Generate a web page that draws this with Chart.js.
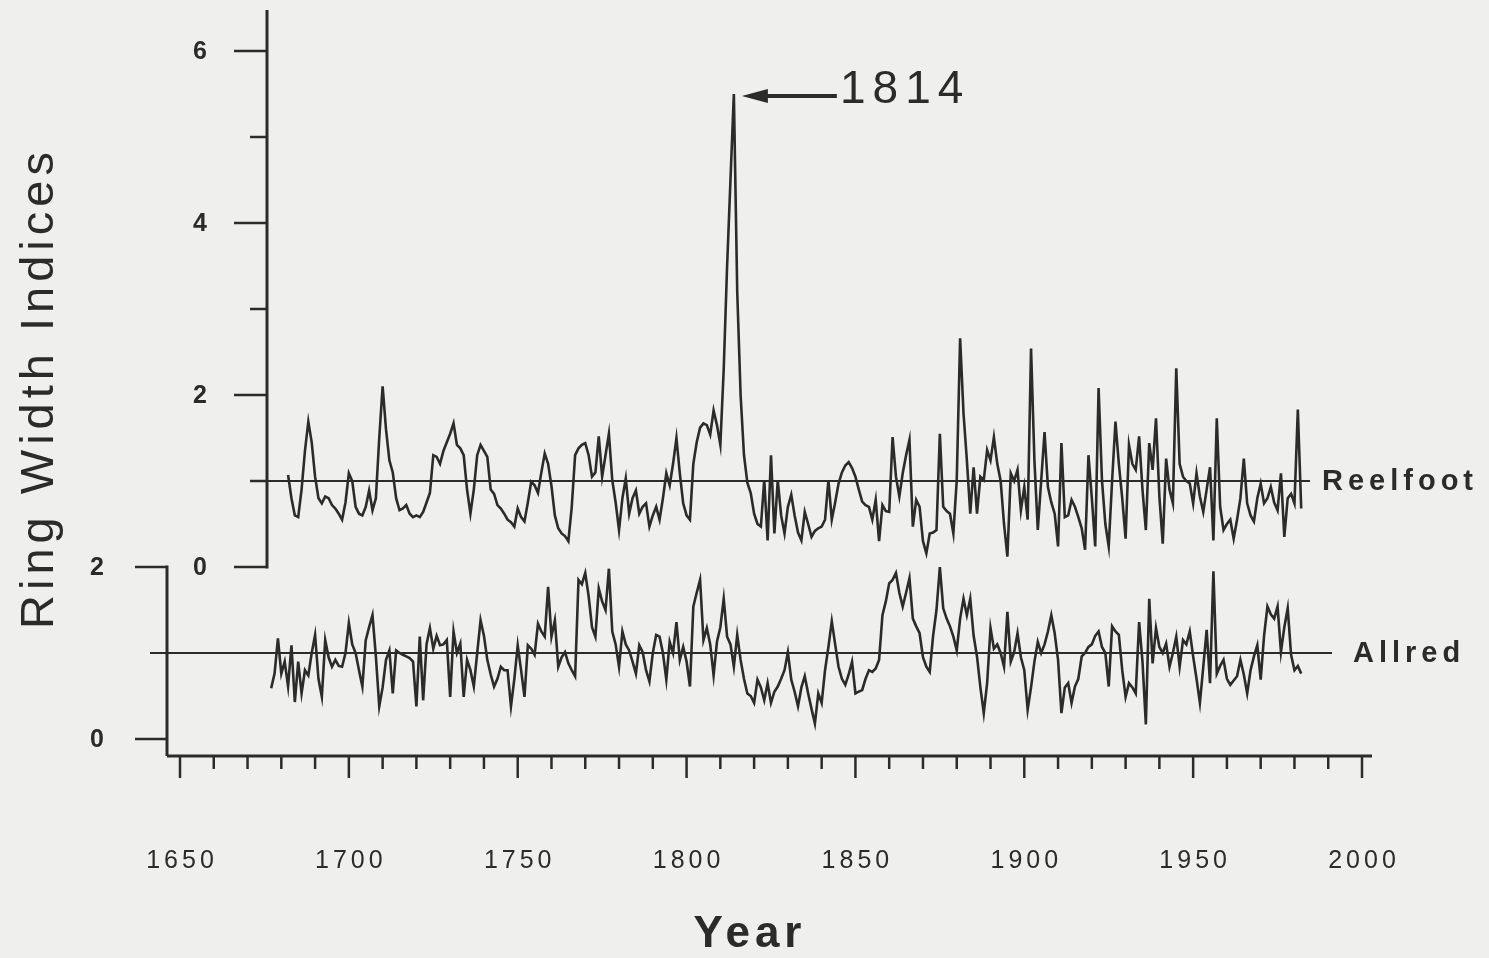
<!DOCTYPE html>
<html>
<head>
<meta charset="utf-8">
<title>Ring Width Indices</title>
<script src="https://cdn.jsdelivr.net/npm/chart.js@4.4.1/dist/chart.umd.min.js"></script>
<style>
  html, body { margin: 0; padding: 0; background: #efefed; }
  canvas { display: block; }
</style>
</head>
<body>
<canvas id="chart" width="1489" height="958"></canvas>
<script>
// Reelfoot ring width indices, one value per year from 1682
const reelfootStart = 1682;
const reelfootValues = [
    1.07, 0.8, 0.6, 0.58, 0.9, 1.35, 1.69, 1.45,                     // 1682-1689
    1.05, 0.8, 0.74, 0.82, 0.8, 0.72, 0.68, 0.62, 0.55, 0.75,        // 1690s
    1.09, 1.0, 0.7, 0.62, 0.6, 0.7, 0.89, 0.66, 0.8, 1.5,            // 1700s
    2.1, 1.6, 1.24, 1.1, 0.8, 0.66, 0.68, 0.72, 0.62, 0.58,          // 1710s
    0.6, 0.58, 0.64, 0.75, 0.86, 1.3, 1.28, 1.2, 1.35, 1.45,         // 1720s
    1.55, 1.67, 1.42, 1.38, 1.3, 0.9, 0.62, 0.9, 1.3, 1.42,          // 1730s
    1.35, 1.28, 0.9, 0.85, 0.72, 0.68, 0.62, 0.55, 0.52, 0.47,       // 1740s
    0.68, 0.58, 0.53, 0.75, 0.99, 0.95, 0.86, 1.1, 1.32, 1.2,        // 1750s
    0.94, 0.6, 0.45, 0.39, 0.36, 0.3, 0.7, 1.3, 1.38, 1.42,          // 1760s
    1.44, 1.3, 1.05, 1.1, 1.52, 1.05, 1.3, 1.55, 1.01, 0.75,         // 1770s
    0.43, 0.8, 1.03, 0.62, 0.8, 0.89, 0.62, 0.7, 0.74, 0.47,         // 1780s
    0.6, 0.7, 0.55, 0.8, 1.09, 0.95, 1.2, 1.5, 1.09, 0.74,           // 1790s
    0.6, 0.55, 1.2, 1.45, 1.62, 1.67, 1.65, 1.54, 1.82, 1.65,        // 1800s
    1.42, 2.3, 3.5, 4.5, 5.5, 3.2, 2.0, 1.3, 0.98, 0.86,             // 1810s
    0.62, 0.5, 0.47, 1.01, 0.31, 1.3, 0.39, 1.01, 0.6, 0.39,         // 1820s
    0.7, 0.84, 0.6, 0.4, 0.31, 0.64, 0.5, 0.35, 0.42, 0.45,          // 1830s
    0.47, 0.55, 1.01, 0.55, 0.75, 0.97, 1.1, 1.18, 1.22, 1.15,       // 1840s
    1.05, 0.9, 0.76, 0.72, 0.7, 0.55, 0.78, 0.3, 0.72, 0.65,         // 1850s
    0.64, 1.51, 1.05, 0.82, 1.09, 1.3, 1.48, 0.47, 0.78, 0.7,        // 1860s
    0.3, 0.16, 0.39, 0.4, 0.43, 1.55, 0.7, 0.65, 0.62, 0.39,         // 1870s
    1.01, 2.66, 1.79, 1.24, 0.62, 1.16, 0.62, 1.05, 1.01, 1.36,      // 1880s
    1.24, 1.51, 1.2, 1.0, 0.5, 0.12, 1.09, 1.0, 1.13, 0.66,          // 1890s
    0.93, 0.55, 2.54, 1.24, 0.43, 1.0, 1.57, 0.93, 0.75, 0.62,       // 1900s
    0.24, 1.44, 0.58, 0.6, 0.78, 0.7, 0.58, 0.45, 0.2, 1.3,          // 1910s
    0.8, 0.24, 2.08, 1.01, 0.5, 0.24, 1.0, 1.69, 1.2, 0.8,           // 1920s
    0.33, 1.42, 1.2, 1.13, 1.52, 0.9, 0.43, 1.44, 1.13, 1.73,        // 1930s
    0.82, 0.27, 1.26, 0.9, 0.74, 2.31, 1.2, 1.05, 1.0, 0.97,         // 1940s
    0.74, 1.09, 0.82, 0.64, 0.9, 1.16, 0.31, 1.73, 0.7, 0.43,        // 1950s
    0.5, 0.55, 0.33, 0.55, 0.8, 1.26, 0.74, 0.6, 0.53, 0.8,          // 1960s
    0.97, 0.74, 0.8, 0.93, 0.75, 0.66, 1.09, 0.35, 0.8, 0.85,        // 1970s
    0.74, 1.83, 0.68                                                  // 1980-1982
];

// Allred ring width indices, one value per year from 1677
const allredStart = 1677;
const allredValues = [
    0.59, 0.76, 1.17,                                                 // 1677-1679
    0.76, 0.9, 0.61, 1.09, 0.43, 0.9, 0.53, 0.8, 0.74, 1.0,          // 1680s
    1.21, 0.7, 0.49, 1.15, 0.95, 0.84, 0.92, 0.85, 0.84, 1.0,        // 1690s
    1.35, 1.1, 1.0, 0.8, 0.61, 1.15, 1.3, 1.44, 0.96, 0.38,          // 1700s
    0.6, 0.92, 1.03, 0.53, 1.03, 1.0, 0.98, 0.96, 0.94, 0.9,         // 1710s
    0.38, 1.19, 0.45, 1.1, 1.29, 1.05, 1.2, 1.09, 1.1, 1.15,         // 1720s
    0.49, 1.25, 1.0, 1.11, 0.49, 0.92, 0.8, 0.61, 1.0, 1.38,         // 1730s
    1.2, 0.92, 0.75, 0.61, 0.7, 0.84, 0.8, 0.8, 0.38, 0.7,           // 1740s
    1.09, 0.8, 0.49, 1.09, 1.05, 0.98, 1.34, 1.25, 1.19, 1.77,       // 1750s
    1.19, 1.38, 0.84, 0.95, 1.01, 0.88, 0.8, 0.73, 1.85, 1.8,        // 1760s
    1.93, 1.66, 1.3, 1.19, 1.75, 1.6, 1.5, 1.98, 1.25, 1.1,          // 1770s
    0.84, 1.25, 1.1, 1.03, 0.9, 0.76, 1.09, 1.01, 0.8, 0.67,         // 1780s
    1.0, 1.21, 1.19, 1.0, 0.69, 1.13, 1.0, 1.36, 0.92, 1.07,         // 1790s
    0.9, 0.61, 1.54, 1.7, 1.85, 1.15, 1.29, 1.1, 0.74, 1.13,         // 1800s
    1.3, 1.63, 1.19, 1.1, 0.84, 1.21, 0.92, 0.7, 0.53, 0.5,          // 1810s
    0.42, 0.69, 0.6, 0.45, 0.65, 0.42, 0.55, 0.61, 0.7, 0.8,         // 1820s
    1.01, 0.69, 0.55, 0.38, 0.6, 0.73, 0.53, 0.35, 0.18, 0.53,       // 1830s
    0.42, 0.8, 1.07, 1.37, 1.1, 0.84, 0.7, 0.63, 0.75, 0.9,          // 1840s
    0.53, 0.55, 0.57, 0.7, 0.8, 0.78, 0.82, 0.92, 1.44, 1.6,         // 1850s
    1.81, 1.85, 1.93, 1.7, 1.54, 1.7, 1.87, 1.4, 1.31, 1.23,         // 1860s
    0.95, 0.84, 0.78, 1.2, 1.5, 2.0, 1.52, 1.4, 1.31, 1.19,          // 1870s
    1.03, 1.4, 1.63, 1.44, 1.63, 1.2, 0.96, 0.6, 0.3, 0.65,          // 1880s
    1.29, 1.05, 1.1, 1.0, 0.84, 1.48, 0.9, 1.01, 1.23, 0.95,         // 1890s
    0.8, 0.34, 0.6, 0.9, 1.13, 1.0, 1.1, 1.25, 1.44, 1.23,           // 1900s
    0.92, 0.3, 0.6, 0.65, 0.42, 0.61, 0.7, 0.96, 1.0, 1.07,          // 1910s
    1.1, 1.2, 1.25, 1.07, 1.0, 0.61, 1.31, 1.25, 1.21, 0.8,          // 1920s
    0.49, 0.65, 0.6, 0.53, 1.36, 0.9, 0.17, 1.63, 0.88, 1.29,        // 1930s
    1.07, 1.0, 1.11, 0.84, 1.0, 1.19, 0.84, 1.15, 1.1, 1.25,         // 1940s
    0.96, 0.7, 0.42, 0.84, 1.27, 0.65, 1.95, 0.76, 0.85, 0.92,       // 1950s
    0.7, 0.63, 0.68, 0.73, 0.92, 0.75, 0.53, 0.8, 0.96, 1.09,        // 1960s
    0.69, 1.2, 1.54, 1.45, 1.4, 1.54, 1.01, 1.3, 1.52, 0.98,         // 1970s
    0.8, 0.85, 0.76                                                   // 1980-1982
];

const yearLabels = [1650, 1700, 1750, 1800, 1850, 1900, 1950, 2000];
const reelfootTicks = [0, 2, 4, 6];
const allredTicks = [0, 2];
const baseline = 1;
const peakYear = 1814;

// page geometry (pixels)
const frame = { left: 167, right: 1370, top: 10, bottom: 756 };
const pxYear = (1362 - 180) / 350;   // 1650 sits at x=180, 2000 at x=1362
const pxUnit = 86;                   // one index unit
const reelfootZeroY = 567;
const allredZeroY = 739;
const ink = '#2b2b2b';

function toPoints(start, values) {
    return values.map((v, i) => ({ x: start + i, y: v }));
}

const decor = {
    id: 'decor',
    beforeDraw(chart) {
        const ctx = chart.ctx;
        ctx.save();
        ctx.fillStyle = '#efefed';
        ctx.fillRect(0, 0, chart.width, chart.height);
        ctx.restore();
    },
    beforeDatasetsDraw(chart) {
        const { ctx, scales } = chart;
        const x = scales.x, yR = scales.yR, yA = scales.yA;
        ctx.save();
        ctx.strokeStyle = ink;
        ctx.fillStyle = ink;

        function seg(x1, y1, x2, y2, w) {
            ctx.lineWidth = w;
            ctx.beginPath();
            ctx.moveTo(x1, y1);
            ctx.lineTo(x2, y2);
            ctx.stroke();
        }

        // baselines at index 1
        seg(250, yR.getPixelForValue(baseline), 1310, yR.getPixelForValue(baseline), 2);
        seg(150, yA.getPixelForValue(baseline), 1332, yA.getPixelForValue(baseline), 2);

        // Reelfoot axis
        const rx = 267;
        seg(rx, frame.top, rx, yR.getPixelForValue(0) + 1.5, 3);
        for (let v = 0; v <= 6; v++) {
            const len = v % 2 === 0 ? 33 : 17;
            const py = yR.getPixelForValue(v);
            seg(rx - len, py, rx, py, 2.5);
        }
        ctx.font = 'bold 25px "Liberation Sans", Arial, sans-serif';
        ctx.textAlign = 'center';
        ctx.textBaseline = 'middle';
        reelfootTicks.forEach(v => ctx.fillText(String(v), 200, yR.getPixelForValue(v) + 1));

        // Allred axis
        const ax = frame.left;
        seg(ax, yA.getPixelForValue(2) - 1.5, ax, frame.bottom, 3);
        allredTicks.forEach(v => {
            const py = yA.getPixelForValue(v);
            seg(135, py, ax, py, 2.5);
            ctx.fillText(String(v), 97, py + 1);
        });

        // year axis
        seg(frame.left, frame.bottom, frame.right + 2, frame.bottom, 3);
        for (let yr = 1650; yr <= 2000; yr += 10) {
            const px = x.getPixelForValue(yr);
            const len = yr % 50 === 0 ? 22 : 13;
            seg(px, frame.bottom, px, frame.bottom + len, 2.5);
        }
        ctx.font = '25px "Liberation Sans", Arial, sans-serif';
        ctx.letterSpacing = '4px';
        yearLabels.forEach(yr => ctx.fillText(String(yr), x.getPixelForValue(yr) + 2, 861));

        // axis titles
        ctx.font = 'bold 44px "Liberation Sans", Arial, sans-serif';
        ctx.letterSpacing = '5px';
        ctx.fillText('Year', 750, 935);

        ctx.save();
        ctx.translate(40, 388);
        ctx.rotate(-Math.PI / 2);
        ctx.font = '47px "Liberation Sans", Arial, sans-serif';
        ctx.letterSpacing = '5px';
        ctx.fillText('Ring Width Indices', 0, 0);
        ctx.restore();

        // series names
        ctx.font = 'bold 29px "Liberation Sans", Arial, sans-serif';
        ctx.letterSpacing = '5px';
        ctx.textAlign = 'left';
        ctx.fillText('Reelfoot', 1322, yR.getPixelForValue(baseline) + 1);
        ctx.fillText('Allred', 1353, yA.getPixelForValue(baseline) + 1);

        // 1814 arrow
        const peakX = x.getPixelForValue(peakYear);
        const peakY = yR.getPixelForValue(reelfootValues[peakYear - reelfootStart]);
        const tipX = peakX + 8, tipY = peakY + 2;
        seg(tipX + 20, tipY, tipX + 95, tipY, 4);
        ctx.beginPath();
        ctx.moveTo(tipX, tipY);
        ctx.lineTo(tipX + 26, tipY - 7);
        ctx.lineTo(tipX + 26, tipY + 7);
        ctx.closePath();
        ctx.fill();
        ctx.font = '46px "Liberation Sans", Arial, sans-serif';
        ctx.letterSpacing = '7px';
        ctx.fillText(String(peakYear), 840, tipY - 6);

        ctx.restore();
    }
};

const ctx = document.getElementById('chart').getContext('2d');
const chart = new Chart(ctx, {
    type: 'line',
    data: {
        datasets: [{
            label: 'Reelfoot',
            data: toPoints(reelfootStart, reelfootValues),
            yAxisID: 'yR',
            borderColor: ink,
            borderWidth: 2.6,
            pointRadius: 0,
            tension: 0
        }, {
            label: 'Allred',
            data: toPoints(allredStart, allredValues),
            yAxisID: 'yA',
            borderColor: ink,
            borderWidth: 2.6,
            pointRadius: 0,
            tension: 0
        }]
    },
    options: {
        responsive: false,
        animation: false,
        layout: {
            padding: {
                left: frame.left,
                right: 1489 - frame.right,
                top: frame.top,
                bottom: 958 - frame.bottom
            }
        },
        plugins: {
            legend: { display: false },
            tooltip: { enabled: false }
        },
        scales: {
            x: {
                type: 'linear',
                display: false,
                min: 1650 - (180 - frame.left) / pxYear,
                max: 2000 + (frame.right - 1362) / pxYear
            },
            yR: {
                type: 'linear',
                display: false,
                min: -(frame.bottom - reelfootZeroY) / pxUnit,
                max: 6 + (51 - frame.top) / pxUnit
            },
            yA: {
                type: 'linear',
                display: false,
                min: -(frame.bottom - allredZeroY) / pxUnit,
                max: 2 + (reelfootZeroY - frame.top) / pxUnit
            }
        }
    },
    plugins: [decor]
});
</script>
</body>
</html>
